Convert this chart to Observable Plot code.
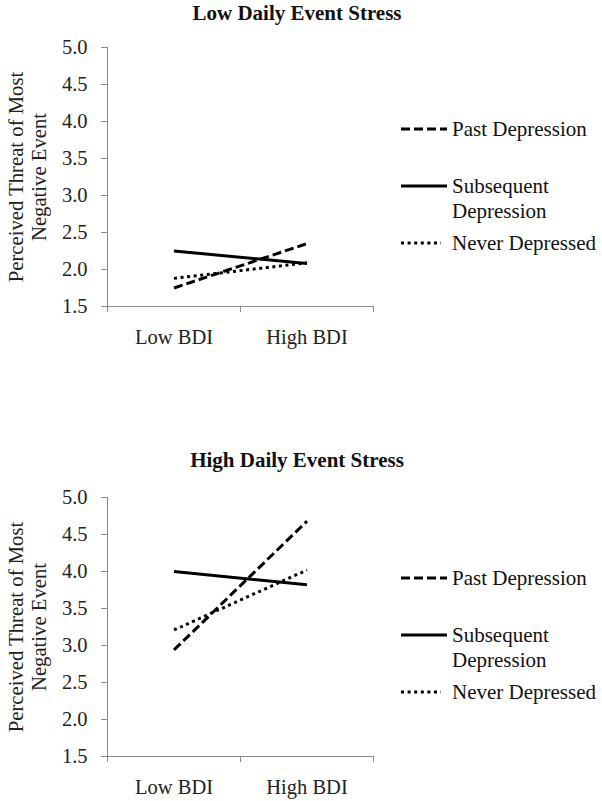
<!DOCTYPE html>
<html>
<head>
<meta charset="utf-8">
<script src="https://cdn.jsdelivr.net/npm/d3@7"></script>
<script src="https://cdn.jsdelivr.net/npm/@observablehq/plot@0.6"></script>
<style>
  html, body { margin: 0; padding: 0; background: #fff; }
  #root { position: relative; width: 602px; height: 801px; overflow: hidden; font-family: "Liberation Serif", "Times New Roman", serif; color: #111; }
  #root svg, #root svg text { font-family: "Liberation Serif", "Times New Roman", serif !important; }
  .panel { position: absolute; left: 0; }
  .title { position: absolute; left: 0; width: 594px; text-align: center; font-weight: bold; font-size: 21px; line-height: 24px; }
  .leg { position: absolute; left: 401px; display: flex; align-items: flex-start; font-size: 21px; line-height: 25px; }
  .leg svg { flex: none; }
  .leg span { margin-left: 4px; white-space: nowrap; }
</style>
</head>
<body>
<div id="root"></div>
<script>
// ---- data ----
const categories = ["Low BDI", "High BDI"];
const seriesNames = ["Past Depression", "Subsequent Depression", "Never Depressed"];
const panelTitles = ["Low Daily Event Stress", "High Daily Event Stress"];
const yTicks = [1.5, 2.0, 2.5, 3.0, 3.5, 4.0, 4.5, 5.0];
const yLabel = "Perceived Threat of Most\nNegative Event";

const lowStressPast = [1.75, 2.35];
const lowStressSubsequent = [2.25, 2.08];
const lowStressNever = [1.88, 2.09];

const highStressPast = [2.94, 4.68];
const highStressSubsequent = [4.00, 3.82];
const highStressNever = [3.21, 4.02];

// ---- styling ----
const dash = {
  "Past Depression": "9,4",
  "Subsequent Depression": null,
  "Never Depressed": "3,3.6"
};
const axisGray = "#8a8a8a";
const font = '"Liberation Serif", "Times New Roman", serif';

function rows(values, name) {
  return values.map((v, i) => ({series: name, category: categories[i], xi: i + 0.5, value: v}));
}

function panel(seriesValues) {
  const marks = [
    Plot.ruleY([1.5], {stroke: axisGray, strokeWidth: 1}),
    Plot.ruleX([0], {y1: 1.5, y2: 5, stroke: axisGray, strokeWidth: 1}),
    Plot.axisY({ticks: yTicks, tickFormat: d => d.toFixed(1), tickSize: 6, tickPadding: 14,
      stroke: axisGray, fill: "#222", fontSize: 20.5, fontFamily: font, label: null}),
    Plot.axisX({ticks: d3.range(categories.length + 1), tickSize: 6, tickFormat: () => "",
      stroke: axisGray, label: null}),
    Plot.axisX({ticks: categories.map((c, i) => i + 0.5), tickSize: 0, tickPadding: 23,
      tickFormat: v => categories[Math.floor(v)], fill: "#222", fontSize: 20.5, fontFamily: font, label: null}),
    Plot.text([yLabel], {frameAnchor: "left", dx: -80, rotate: -90, fontSize: 20.7, fontFamily: font,
      lineHeight: 1.1, textAnchor: "middle", lineAnchor: "middle", fill: "#222"})
  ];
  seriesNames.forEach((name, k) => {
    marks.push(Plot.line(rows(seriesValues[k], name), {
      x: "xi", y: "value", stroke: "#000", strokeWidth: 3,
      strokeDasharray: dash[name], strokeLinecap: "butt"
    }));
  });
  return Plot.plot({
    width: 602, height: 351,
    marginLeft: 107, marginRight: 229, marginTop: 47, marginBottom: 45,
    x: {type: "linear", domain: [0, categories.length]},
    y: {domain: [1.5, 5]},
    style: {fontFamily: font, fontSize: "20px", background: "transparent", overflow: "visible"},
    marks
  });
}

const root = document.getElementById("root");
const panels = [
  {top: 0, titleBaseline: 20, values: [lowStressPast, lowStressSubsequent, lowStressNever], legendY: [129, 186, 243]},
  {top: 450, titleBaseline: 467, values: [highStressPast, highStressSubsequent, highStressNever], legendY: [578, 635, 692]}
];

panels.forEach((p, idx) => {
  const wrap = document.createElement("div");
  wrap.className = "panel";
  wrap.style.top = p.top + "px";
  wrap.appendChild(panel(p.values));
  root.appendChild(wrap);

  const t = document.createElement("div");
  t.className = "title";
  t.textContent = panelTitles[idx];
  t.style.top = (p.titleBaseline - 19) + "px";
  root.appendChild(t);

  seriesNames.forEach((name, k) => {
    const leg = document.createElement("div");
    leg.className = "leg";
    leg.style.top = (p.legendY[k] - 12) + "px";
    const w = name === "Never Depressed" ? 40 : 46;
    const svg = d3.create("svg").attr("width", 47).attr("height", 24);
    svg.append("line").attr("x1", 0).attr("x2", w).attr("y1", 12).attr("y2", 12)
      .attr("stroke", "#000").attr("stroke-width", 3)
      .attr("stroke-dasharray", dash[name]);
    leg.appendChild(svg.node());
    const span = document.createElement("span");
    if (name === "Subsequent Depression") span.innerHTML = "Subsequent<br>Depression";
    else span.textContent = name;
    leg.appendChild(span);
    root.appendChild(leg);
  });
});
</script>
</body>
</html>
